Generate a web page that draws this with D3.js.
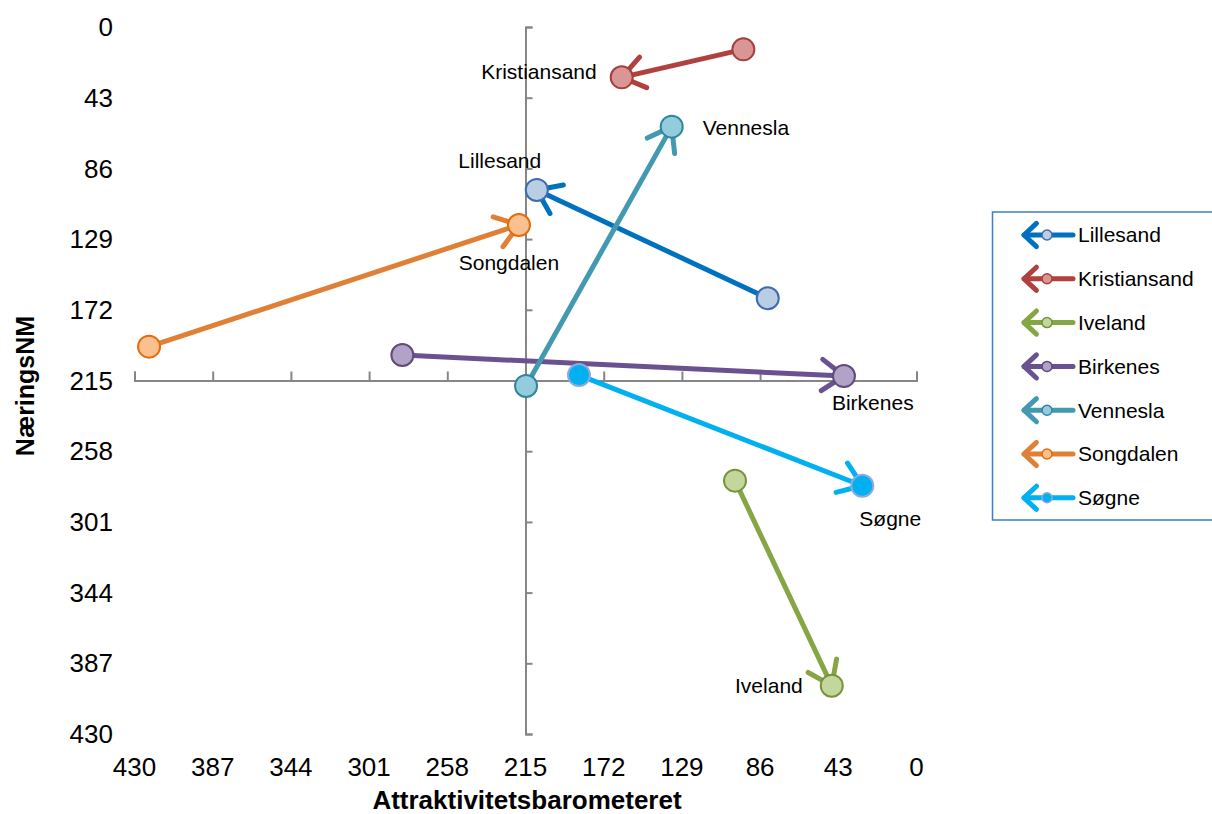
<!DOCTYPE html>
<html>
<head>
<meta charset="utf-8">
<script src="https://cdn.jsdelivr.net/npm/d3@7"></script>
<style>
  body { margin: 0; background: #fff; }
  svg text { font-family: "Liberation Sans", Arial, sans-serif; fill: #000; }
</style>
</head>
<body>
<svg id="chart" width="1212" height="814"></svg>
<script>
// series in legend order
var towns = ["Lillesand", "Kristiansand", "Iveland", "Birkenes", "Vennesla", "Songdalen", "Søgne"];
// Attraktivitetsbarometeret (x) and NæringsNM (y), start and end of each arrow
var attrStart = [81.8, 95.2, 99.8, 282.7, 214.7, 422.0, 185.6];
var naerStart = [165.0, 13.6, 275.9, 199.5, 218.3, 194.4, 211.7];
var attrEnd   = [208.8, 162.1, 46.6, 39.9, 134.6, 218.6, 29.8];
var naerEnd   = [99.1, 30.6, 400.6, 212.3, 60.6, 120.4, 279.0];
var tickVals  = [0, 43, 86, 129, 172, 215, 258, 301, 344, 387, 430];

var lineCol = ["#0070c0", "#b0413e", "#86a544", "#6a5190", "#4299b0", "#e07f36", "#00b0f0"];
var fillCol = ["#b9cde5", "#d99694", "#c3d69b", "#b3a2c7", "#93cddd", "#fac090", "#00b0f0"];
var edgeCol = ["#3e6cae", "#a5403d", "#77933c", "#604a7b", "#31859c", "#e46c0a", "#8ea9db"];
// label placement relative to end point: dx, dy, anchor
var labelPos = [[-37, -29, "middle"], [-25, -6, "end"], [-29, 0, "end"], [-12, 27, "start"],
                [31, 1, "start"], [-10, 38, "middle"], [-3, 33, "start"]];

var svg = d3.select("#chart");

var x = d3.scaleLinear().domain([430, 0]).range([134.5, 916.5]);
var y = d3.scaleLinear().domain([0, 430]).range([27, 734]);

// axes crossing at 215 / 215
var xAx = svg.append("g")
  .attr("transform", "translate(0," + y(215) + ")")
  .call(d3.axisTop(x).tickValues(tickVals).tickSize(9).tickSizeOuter(9).tickFormat(""));
var yAx = svg.append("g")
  .attr("transform", "translate(" + x(215) + ",0)")
  .call(d3.axisRight(y).tickValues(tickVals).tickSize(7).tickSizeOuter(7).tickFormat(""));
svg.selectAll(".domain, .tick line").attr("stroke", "#868686").attr("stroke-width", 2);

// tick labels
svg.append("g").selectAll("text").data(tickVals).enter().append("text")
  .attr("x", function(d){ return x(d); })
  .attr("y", 767)
  .attr("dy", "0.35em")
  .attr("text-anchor", "middle")
  .style("font-size", "26px")
  .text(function(d){ return d; });

svg.append("g").selectAll("text").data(tickVals).enter().append("text")
  .attr("x", 113)
  .attr("y", function(d){ return y(d); })
  .attr("dy", "0.35em")
  .attr("text-anchor", "end")
  .style("font-size", "26px")
  .text(function(d){ return d; });

svg.append("text")
  .attr("x", 527).attr("y", 800).attr("dy", "0.35em")
  .attr("text-anchor", "middle")
  .style("font-size", "26px").style("font-weight", "bold")
  .text("Attraktivitetsbarometeret");

svg.append("text")
  .attr("transform", "translate(25,386) rotate(-90)")
  .attr("dy", "0.35em")
  .attr("text-anchor", "middle")
  .style("font-size", "25px").style("font-weight", "bold")
  .text("NæringsNM");

// arrow head arms (open chevron) at point (px,py) pointing away from (qx,qy)
function chevron(px, py, qx, qy, len, ang){
  var a = Math.atan2(qy - py, qx - px);
  var p1 = [px + len * Math.cos(a - ang), py + len * Math.sin(a - ang)];
  var p2 = [px + len * Math.cos(a + ang), py + len * Math.sin(a + ang)];
  return "M" + p1 + "L" + px + "," + py + "L" + p2;
}

var series = svg.append("g").selectAll("g").data(towns).enter().append("g");

series.each(function(d, i){
  var g = d3.select(this);
  var x0 = x(attrStart[i]), y0 = y(naerStart[i]);
  var x1 = x(attrEnd[i]), y1 = y(naerEnd[i]);

  g.append("line")
    .attr("x1", x0).attr("y1", y0).attr("x2", x1).attr("y2", y1)
    .attr("stroke", lineCol[i]).attr("stroke-width", 5);

  g.append("path")
    .attr("d", chevron(x1, y1, x0, y0, 27, 0.62))
    .attr("fill", "none")
    .attr("stroke", lineCol[i]).attr("stroke-width", 5)
    .attr("stroke-linecap", "round").attr("stroke-linejoin", "round");

  g.selectAll("circle").data([[x0, y0], [x1, y1]]).enter().append("circle")
    .attr("cx", function(p){ return p[0]; })
    .attr("cy", function(p){ return p[1]; })
    .attr("r", 11)
    .attr("fill", fillCol[i])
    .attr("stroke", edgeCol[i]).attr("stroke-width", 2);

  g.append("text")
    .attr("x", x1 + labelPos[i][0])
    .attr("y", y1 + labelPos[i][1])
    .attr("dy", "0.35em")
    .attr("text-anchor", labelPos[i][2])
    .style("font-size", "21px")
    .text(d);
});

// legend
var legend = svg.append("g");
legend.append("rect")
  .attr("x", 992.5).attr("y", 212).attr("width", 225).attr("height", 308)
  .attr("fill", "#fff").attr("stroke", "#3b7fc4").attr("stroke-width", 1.5);

var items = legend.selectAll("g.item").data(towns).enter().append("g")
  .attr("class", "item")
  .attr("transform", function(d, i){ return "translate(0," + (235 + i * 43.8) + ")"; });

items.append("line")
  .attr("x1", 1024).attr("x2", 1073).attr("y1", 0).attr("y2", 0)
  .attr("stroke", function(d, i){ return lineCol[i]; }).attr("stroke-width", 5)
  .attr("stroke-linecap", "round");
items.append("path")
  .attr("d", chevron(1024, 0, 1073, 0, 17, 0.75))
  .attr("fill", "none")
  .attr("stroke", function(d, i){ return lineCol[i]; }).attr("stroke-width", 5)
  .attr("stroke-linecap", "round").attr("stroke-linejoin", "round");
items.append("circle")
  .attr("cx", 1047).attr("cy", 0).attr("r", 5)
  .attr("fill", function(d, i){ return fillCol[i]; })
  .attr("stroke", function(d, i){ return edgeCol[i]; }).attr("stroke-width", 1.5);
items.append("text")
  .attr("x", 1078).attr("y", 0).attr("dy", "0.35em")
  .style("font-size", "21px")
  .text(function(d){ return d; });
</script>
</body>
</html>
